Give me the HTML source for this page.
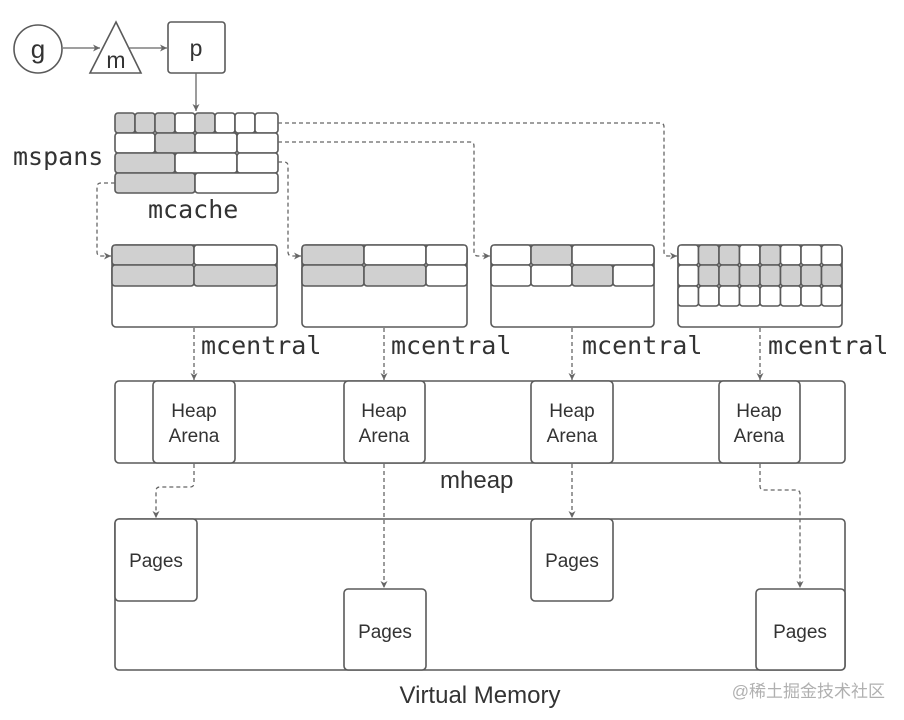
<!DOCTYPE html>
<html><head><meta charset="utf-8"><style>
html,body{margin:0;padding:0;background:#fff}
svg{display:block}
.b{fill:#fff;stroke:#5a5a5a;stroke-width:1.6}
.g{fill:#d0d0d0;stroke:#5a5a5a;stroke-width:1.6}
.d{fill:none;stroke:#666;stroke-width:1.3;stroke-dasharray:4 3}
.s{fill:none;stroke:#666;stroke-width:1.3}
.mono{font-family:"DejaVu Sans Mono","Liberation Mono",monospace;font-size:25px;fill:#333}
.sans{font-family:"Liberation Sans",sans-serif;fill:#333}
</style></head><body>
<svg width="904" height="720" viewBox="0 0 904 720" xmlns="http://www.w3.org/2000/svg">
<defs><marker id="a" markerWidth="8" markerHeight="8" refX="7" refY="4" orient="auto" markerUnits="userSpaceOnUse"><path d="M0,0.5 L7,4 L0,7.5 L2,4 Z" fill="#666"/></marker></defs>

<!-- g m p -->
<circle cx="38" cy="49" r="24" class="b"/>
<text x="38" y="58" text-anchor="middle" class="sans" font-size="26">g</text>
<polygon points="116,22 141,73 90,73" class="b"/>
<text x="116" y="68" text-anchor="middle" class="sans" font-size="23">m</text>
<rect x="168" y="22" width="57" height="51" rx="3" class="b"/>
<text x="196" y="56" text-anchor="middle" class="sans" font-size="23">p</text>
<line x1="63" y1="48" x2="100" y2="48" class="s" marker-end="url(#a)"/>
<line x1="128" y1="48" x2="167" y2="48" class="s" marker-end="url(#a)"/>
<line x1="196" y1="73" x2="196" y2="111" class="s" marker-end="url(#a)"/>

<!-- mcache -->
<g>
<rect x="115" y="113" width="20" height="20" rx="3" class="g"/>
<rect x="135" y="113" width="20" height="20" rx="3" class="g"/>
<rect x="155" y="113" width="20" height="20" rx="3" class="g"/>
<rect x="175" y="113" width="20" height="20" rx="3" class="b"/>
<rect x="195" y="113" width="20" height="20" rx="3" class="g"/>
<rect x="215" y="113" width="20" height="20" rx="3" class="b"/>
<rect x="235" y="113" width="20" height="20" rx="3" class="b"/>
<rect x="255" y="113" width="23" height="20" rx="3" class="b"/>
<rect x="115" y="133" width="40" height="20" rx="3" class="b"/>
<rect x="155" y="133" width="40" height="20" rx="3" class="g"/>
<rect x="195" y="133" width="42" height="20" rx="3" class="b"/>
<rect x="237" y="133" width="41" height="20" rx="3" class="b"/>
<rect x="115" y="153" width="60" height="20" rx="3" class="g"/>
<rect x="175" y="153" width="62" height="20" rx="3" class="b"/>
<rect x="237" y="153" width="41" height="20" rx="3" class="b"/>
<rect x="115" y="173" width="80" height="20" rx="3" class="g"/>
<rect x="195" y="173" width="83" height="20" rx="3" class="b"/>
</g>
<text x="13" y="165" class="mono">mspans</text>
<text x="148" y="218" class="mono">mcache</text>

<!-- mcentral 1 -->
<rect x="112" y="245" width="165" height="82" rx="4" class="b"/>
<rect x="112" y="245" width="82" height="20" rx="3" class="g"/>
<rect x="194" y="245" width="83" height="20" rx="3" class="b"/>
<rect x="112" y="265" width="82" height="21" rx="3" class="g"/>
<rect x="194" y="265" width="83" height="21" rx="3" class="g"/>
<!-- mcentral 2 -->
<rect x="302" y="245" width="165" height="82" rx="4" class="b"/>
<rect x="302" y="245" width="62" height="20" rx="3" class="g"/>
<rect x="364" y="245" width="62" height="20" rx="3" class="b"/>
<rect x="426" y="245" width="41" height="20" rx="3" class="b"/>
<rect x="302" y="265" width="62" height="21" rx="3" class="g"/>
<rect x="364" y="265" width="62" height="21" rx="3" class="g"/>
<rect x="426" y="265" width="41" height="21" rx="3" class="b"/>
<!-- mcentral 3 -->
<rect x="491" y="245" width="163" height="82" rx="4" class="b"/>
<rect x="491" y="245" width="40" height="20" rx="3" class="b"/>
<rect x="531" y="245" width="41" height="20" rx="3" class="g"/>
<rect x="572" y="245" width="82" height="20" rx="3" class="b"/>
<rect x="491" y="265" width="40" height="21" rx="3" class="b"/>
<rect x="531" y="265" width="41" height="21" rx="3" class="b"/>
<rect x="572" y="265" width="41" height="21" rx="3" class="g"/>
<rect x="613" y="265" width="41" height="21" rx="3" class="b"/>
<!-- mcentral 4 -->
<rect x="678" y="245" width="164" height="82" rx="4" class="b"/>
<g>
<rect x="678" y="245" width="20.5" height="20" rx="3" class="b"/>
<rect x="698.5" y="245" width="20.5" height="20" rx="3" class="g"/>
<rect x="719" y="245" width="20.5" height="20" rx="3" class="g"/>
<rect x="739.5" y="245" width="20.5" height="20" rx="3" class="b"/>
<rect x="760" y="245" width="20.5" height="20" rx="3" class="g"/>
<rect x="780.5" y="245" width="20.5" height="20" rx="3" class="b"/>
<rect x="801" y="245" width="20.5" height="20" rx="3" class="b"/>
<rect x="821.5" y="245" width="20.5" height="20" rx="3" class="b"/>
<rect x="678" y="265" width="20.5" height="21" rx="3" class="b"/>
<rect x="698.5" y="265" width="20.5" height="21" rx="3" class="g"/>
<rect x="719" y="265" width="20.5" height="21" rx="3" class="g"/>
<rect x="739.5" y="265" width="20.5" height="21" rx="3" class="g"/>
<rect x="760" y="265" width="20.5" height="21" rx="3" class="g"/>
<rect x="780.5" y="265" width="20.5" height="21" rx="3" class="g"/>
<rect x="801" y="265" width="20.5" height="21" rx="3" class="g"/>
<rect x="821.5" y="265" width="20.5" height="21" rx="3" class="g"/>
<rect x="678" y="286" width="20.5" height="20" rx="3" class="b"/>
<rect x="698.5" y="286" width="20.5" height="20" rx="3" class="b"/>
<rect x="719" y="286" width="20.5" height="20" rx="3" class="b"/>
<rect x="739.5" y="286" width="20.5" height="20" rx="3" class="b"/>
<rect x="760" y="286" width="20.5" height="20" rx="3" class="b"/>
<rect x="780.5" y="286" width="20.5" height="20" rx="3" class="b"/>
<rect x="801" y="286" width="20.5" height="20" rx="3" class="b"/>
<rect x="821.5" y="286" width="20.5" height="20" rx="3" class="b"/>
</g>

<text x="201" y="354" class="mono">mcentral</text>
<text x="391" y="354" class="mono">mcentral</text>
<text x="582" y="354" class="mono">mcentral</text>
<text x="768" y="354" class="mono">mcentral</text>

<!-- mheap -->
<rect x="115" y="381" width="730" height="82" rx="4" class="b"/>
<rect x="153" y="381" width="82" height="82" rx="4" class="b"/>
<rect x="344" y="381" width="81" height="82" rx="4" class="b"/>
<rect x="531" y="381" width="82" height="82" rx="4" class="b"/>
<rect x="719" y="381" width="81" height="82" rx="4" class="b"/>
<g class="sans" font-size="19" text-anchor="middle">
<text x="194" y="417">Heap</text><text x="194" y="442">Arena</text>
<text x="384" y="417">Heap</text><text x="384" y="442">Arena</text>
<text x="572" y="417">Heap</text><text x="572" y="442">Arena</text>
<text x="759" y="417">Heap</text><text x="759" y="442">Arena</text>
</g>
<text x="440" y="488" class="sans" font-size="24">mheap</text>

<!-- Virtual memory -->
<rect x="115" y="519" width="730" height="151" rx="4" class="b"/>
<rect x="115" y="519" width="82" height="82" rx="4" class="b"/>
<rect x="344" y="589" width="82" height="81" rx="4" class="b"/>
<rect x="531" y="519" width="82" height="82" rx="4" class="b"/>
<rect x="756" y="589" width="89" height="81" rx="4" class="b"/>
<g class="sans" font-size="19" text-anchor="middle">
<text x="156" y="567">Pages</text>
<text x="385" y="638">Pages</text>
<text x="572" y="567">Pages</text>
<text x="800" y="638">Pages</text>
</g>
<text x="480" y="703" text-anchor="middle" class="sans" font-size="24">Virtual Memory</text>
<text x="885" y="697" text-anchor="end" font-family="'Liberation Sans','Noto Sans CJK SC',sans-serif" font-size="17" fill="#b0b0b0">@稀土掘金技术社区</text>

<!-- connectors (drawn last) -->
<path d="M278,123 H660 Q664,123 664,127 V252 Q664,256 668,256 H677" class="d" marker-end="url(#a)"/>
<path d="M278,142 H470 Q474,142 474,146 V252 Q474,256 478,256 H490" class="d" marker-end="url(#a)"/>
<path d="M278,162 H284 Q288,162 288,166 V252 Q288,256 292,256 H301" class="d" marker-end="url(#a)"/>
<path d="M115,183 H101 Q97,183 97,187 V252 Q97,256 101,256 H111" class="d" marker-end="url(#a)"/>

<line x1="194" y1="328" x2="194" y2="380" class="d" marker-end="url(#a)"/>
<line x1="384" y1="328" x2="384" y2="380" class="d" marker-end="url(#a)"/>
<line x1="572" y1="328" x2="572" y2="380" class="d" marker-end="url(#a)"/>
<line x1="760" y1="328" x2="760" y2="380" class="d" marker-end="url(#a)"/>

<path d="M194,464 V483 Q194,487 190,487 H160 Q156,487 156,491 V518" class="d" marker-end="url(#a)"/>
<line x1="384" y1="464" x2="384" y2="588" class="d" marker-end="url(#a)"/>
<line x1="572" y1="464" x2="572" y2="518" class="d" marker-end="url(#a)"/>
<path d="M760,464 V486 Q760,490 764,490 H796 Q800,490 800,494 V588" class="d" marker-end="url(#a)"/>
</svg>
</body></html>
